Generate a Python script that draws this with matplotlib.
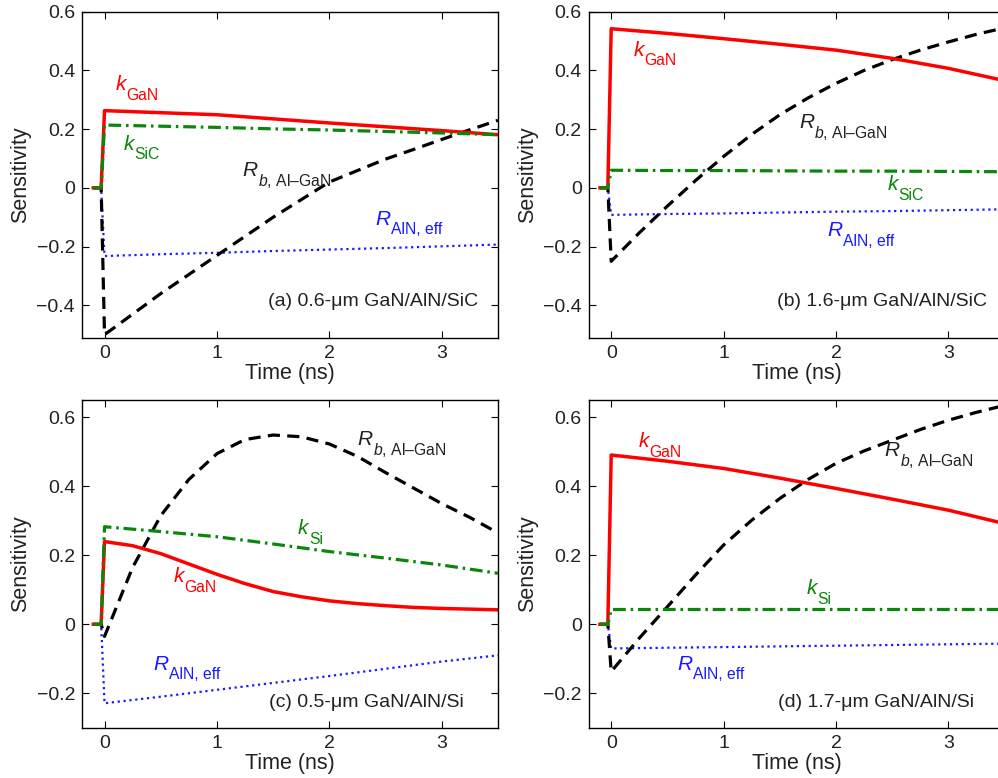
import numpy as np
import matplotlib
matplotlib.use('Agg')
import matplotlib.pyplot as plt

# 字体设置
plt.rcParams['font.family'] = ['Liberation Sans', 'DejaVu Sans']
plt.rcParams['mathtext.fontset'] = 'custom'
plt.rcParams['mathtext.rm'] = 'Liberation Sans'
plt.rcParams['mathtext.it'] = 'Liberation Sans:italic'

# 时间轴 (ns)
t_pre = [-0.1, -0.03]
t_coarse = [0.0, 0.5, 1.0, 1.5, 2.0, 2.5, 3.0, 3.5]
t_fine = [0.0, 0.25, 0.5, 0.75, 1.0, 1.25, 1.5, 1.75, 2.0, 2.25, 2.5, 2.75, 3.0, 3.25, 3.5]

# (a) 0.6-um GaN/AlN/SiC
a_kgan = [0.263, 0.256, 0.249, 0.235, 0.221, 0.208, 0.195, 0.181]
a_ksub = [0.214, 0.210, 0.206, 0.201, 0.197, 0.192, 0.187, 0.181]
a_raln = [-0.232, -0.226, -0.221, -0.215, -0.210, -0.205, -0.199, -0.193]
a_rb = [-0.50, -0.43, -0.36, -0.295, -0.23, -0.165, -0.10, -0.04, 0.02,
        0.059, 0.098, 0.131, 0.165, 0.198, 0.23]

# (b) 1.6-um GaN/AlN/SiC
b_kgan = [0.542, 0.526, 0.508, 0.489, 0.469, 0.441, 0.407, 0.365]
b_ksub = [0.060, 0.059, 0.059, 0.058, 0.057, 0.057, 0.056, 0.055]
b_raln = [-0.092, -0.089, -0.087, -0.084, -0.081, -0.079, -0.076, -0.073]
b_rb = [-0.25, -0.153, -0.062, 0.025, 0.107, 0.182, 0.249, 0.306, 0.356,
        0.40, 0.437, 0.469, 0.497, 0.523, 0.545]

# (c) 0.5-um GaN/AlN/Si
c_kgan = [0.240, 0.228, 0.205, 0.175, 0.145, 0.118, 0.095, 0.080, 0.068,
          0.060, 0.054, 0.049, 0.046, 0.044, 0.042]
c_ksub = [0.283, 0.269, 0.254, 0.233, 0.211, 0.192, 0.172, 0.148]
c_raln = [-0.229, -0.210, -0.190, -0.170, -0.150, -0.129, -0.108, -0.090]
c_rb = [-0.035, 0.165, 0.315, 0.42, 0.495, 0.536, 0.549, 0.544, 0.523,
        0.487, 0.44, 0.395, 0.35, 0.31, 0.265]

# (d) 1.7-um GaN/AlN/Si
d_kgan = [0.491, 0.473, 0.452, 0.424, 0.394, 0.363, 0.331, 0.292]
d_ksub = [0.043, 0.043, 0.043, 0.043, 0.043, 0.043, 0.043, 0.043]
d_raln = [-0.070, -0.068, -0.066, -0.064, -0.062, -0.060, -0.058, -0.056]
d_rb = [-0.137, -0.04, 0.051, 0.143, 0.23, 0.302, 0.365, 0.42, 0.467,
        0.503, 0.534, 0.565, 0.592, 0.615, 0.635]

titles = ['(a) 0.6-\u03bcm GaN/AlN/SiC', '(b) 1.6-\u03bcm GaN/AlN/SiC',
          '(c) 0.5-\u03bcm GaN/AlN/Si', '(d) 1.7-\u03bcm GaN/AlN/Si']
sub_names = ['SiC', 'SiC', 'Si', 'Si']

RED = '#ff0000'
GREEN = '#0a870a'
BLUE = '#1a1aff'
BLACK = '#000000'
TXT = '#222222'


def with_pre(t, y):
    # t<0 时灵敏度为 0
    return np.r_[t_pre, t], np.r_[[0, 0], y]


def curve_label(ax, x, y, main, sub, color):
    t = ax.text(x, y, main, color=color, fontsize=15, style='italic',
                ha='left', va='baseline')
    ax.annotate(sub, xy=(1, 0), xycoords=t, xytext=(0.3, -4.0),
                textcoords='offset points', ha='left', va='baseline',
                fontsize=11.3, color=color)


fig = plt.figure(figsize=(9.98, 7.78), dpi=100)
pos = [[0.0822, 0.566, 0.4168, 0.419], [0.5899, 0.566, 0.4168, 0.419],
       [0.0822, 0.0646, 0.4168, 0.421], [0.5899, 0.0646, 0.4168, 0.421]]

panels = [
    (a_kgan, 'c', a_ksub, a_raln, a_rb),
    (b_kgan, 'c', b_ksub, b_raln, b_rb),
    (c_kgan, 'f', c_ksub, c_raln, c_rb),
    (d_kgan, 'c', d_ksub, d_raln, d_rb),
]

# 曲线标注位置 (x, y)
lab_kgan = [(0.097, 0.332), (0.20, 0.45), (0.613, 0.122), (0.243, 0.513)]
lab_ksub = [(0.171, 0.130), (2.455, -0.008), (1.72, 0.262), (1.74, 0.088)]
lab_rb = [(1.227, 0.040), (1.67, 0.204), (2.25, 0.52), (2.43, 0.488)]
lab_raln = [(2.41, -0.125), (1.923, -0.165), (0.431, -0.132), (0.592, -0.132)]
lab_title = [(3.32, -0.403), (3.34, -0.403), (3.20, -0.239), (3.225, -0.239)]
ylims = [(-0.51, 0.6), (-0.51, 0.6), (-0.3, 0.65), (-0.3, 0.65)]

for i in range(4):
    ax = fig.add_axes(pos[i])
    kgan, kg_grid, ksub, raln, rb = panels[i]
    tk = t_coarse if kg_grid == 'c' else t_fine

    ax.plot(*with_pre(t_coarse, raln), color=BLUE, lw=1.6, ls=':')
    ax.plot(*with_pre(t_fine, rb), color=BLACK, lw=2.3, dashes=(3.8, 2.3))
    ax.plot(*with_pre(tk, kgan), color=RED, lw=2.5, solid_joinstyle='round')
    ax.plot(*with_pre(t_coarse, ksub), color=GREEN, lw=2.3,
            dashes=(4.0, 1.5, 0.8, 1.5))

    ax.set_xlim(-0.2, 3.5)
    ax.set_ylim(*ylims[i])
    ax.set_xticks([0, 1, 2, 3])
    if i < 2:
        ax.set_yticks([-0.4, -0.2, 0, 0.2, 0.4, 0.6])
    else:
        ax.set_yticks([-0.2, 0, 0.2, 0.4, 0.6])
    ax.yaxis.set_major_formatter(matplotlib.ticker.FuncFormatter(
        lambda v, p: '0' if abs(v) < 1e-9 else ('%.1f' % v).replace('-', '\u2212')))
    ax.tick_params(direction='in', top=True, right=True, length=5, width=0.8,
                   labelsize=14, labelcolor=TXT, pad=5)
    for s in ax.spines.values():
        s.set_linewidth(1.0)
    ax.set_xlabel('Time (ns)', fontsize=15.5, color=TXT, labelpad=1)
    ax.set_ylabel('Sensitivity', fontsize=15.5, color=TXT, labelpad=4)

    curve_label(ax, *lab_kgan[i], 'k', 'GaN', RED)
    curve_label(ax, *lab_ksub[i], 'k', sub_names[i], GREEN)
    curve_label(ax, *lab_rb[i], 'R', '$b$, Al\u2013GaN', TXT)
    curve_label(ax, *lab_raln[i], 'R', 'AlN, eff', BLUE)
    ax.text(*lab_title[i], titles[i], fontsize=14, color=TXT,
            ha='right', va='baseline')

fig.savefig('out.png', dpi=100)
